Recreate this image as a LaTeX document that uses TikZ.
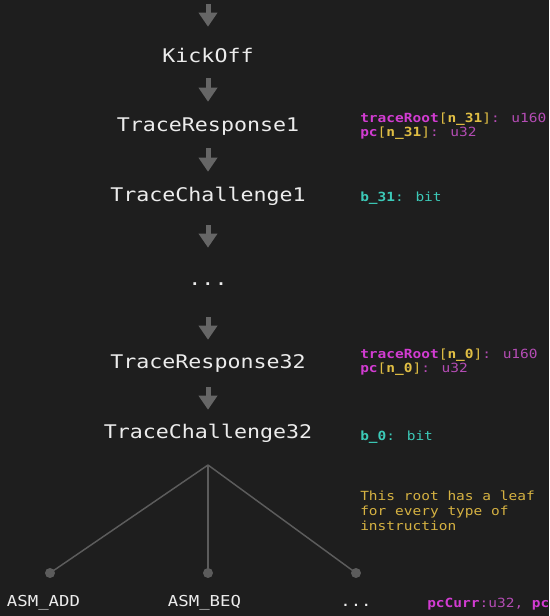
\documentclass[tikz,border=0pt]{standalone}
\usepackage{fontspec}
\usepackage{xcolor}
\usetikzlibrary{arrows.meta}
\newfontfamily\codefont[FakeStretch=1.15]{DejaVu Sans Mono}
\definecolor{bgdark}{HTML}{1E1E1E}
\definecolor{arrowgray}{HTML}{666666}
\definecolor{treegray}{HTML}{5C5C5C}
\definecolor{labelwhite}{HTML}{ECECEC}
\definecolor{magbold}{HTML}{D23CD2}
\definecolor{magreg}{HTML}{B44CB4}
\definecolor{codeyel}{HTML}{E0BE44}
\definecolor{codecyan}{HTML}{3CCAB8}
\definecolor{noteyel}{HTML}{D6B242}
\newcommand{\fld}[3]{\textcolor{magbold}{\bfseries #1}\textcolor{codeyel}{[\textbf{#2}]}\textcolor{magreg}{: #3}}
\newcommand{\bitfld}[1]{\textcolor{codecyan}{\textbf{#1}: bit}}

\begin{document}
\begin{tikzpicture}[x=0.75pt, y=-0.75pt,
    state/.style={font=\codefont\fontsize{14.1pt}{17pt}\selectfont, text=labelwhite,
        inner sep=0pt, text height=10pt, text depth=3pt, anchor=base},
    info/.style={font=\codefont\fontsize{9.45pt}{11.25pt}\selectfont, inner sep=0pt, anchor=base west},
    leaf/.style={font=\codefont\fontsize{11.3pt}{13pt}\selectfont, text=labelwhite, inner sep=0pt, anchor=base},
    flow/.style={draw=arrowgray, line width=3.75pt, -{Triangle[length=10.5pt, width=13.5pt]}},
    branch/.style={draw=treegray, line width=1.1pt},
    dot/.style={circle, fill=treegray, inner sep=0pt, minimum size=7.5pt}]
    \fill[bgdark] (0,0) rectangle (549,616);
    \useasboundingbox (0,0) rectangle (549,616);

    % chain of states
    \coordinate (entry) at (208,4);
    \node[state] (kick) at (208,63) {KickOff};
    \node[state] (tr1) at (208,132) {TraceResponse1};
    \node[state] (tc1) at (208,202) {TraceChallenge1};
    \node[state] (skip) at (208,285) {...};
    \node[state] (tr32) at (208,368) {TraceResponse32};
    \node[state] (tc32) at (208,438) {TraceChallenge32};

    \draw[flow, shorten >=17pt] (entry) -- (kick);
    \draw[flow, shorten <=8.25pt, shorten >=12.5pt] (kick) -- (tr1);
    \draw[flow, shorten <=9pt, shorten >=12.5pt] (tr1) -- (tc1);
    \draw[flow, shorten <=14.25pt, shorten >=17.8pt] (tc1) -- (skip);
    \draw[flow, shorten <=21pt, shorten >=11pt] (skip) -- (tr32);
    \draw[flow, shorten <=11.25pt, shorten >=11pt] (tr32) -- (tc32);

    % fields sent with each step
    \node[info] (root31) at (360,122.7) {\fld{traceRoot}{n\_31}{u160}};
    \node[info] (pc31) at (360,136.5) {\fld{pc}{n\_31}{u32}};
    \node[info] (bit31) at (360,201.7) {\bitfld{b\_31}};
    \node[info] (root0) at (360,358) {\fld{traceRoot}{n\_0}{u160}};
    \node[info] (pc0) at (360,372) {\fld{pc}{n\_0}{u32}};
    \node[info] (bit0) at (360,440) {\bitfld{b\_0}};

    % one leaf per instruction
    \coordinate (fork) at (208,465);
    \node[dot] (dotadd) at (50,573) {};
    \node[dot] (dotbeq) at (208,573) {};
    \node[dot] (dotmore) at (356,573) {};
    \draw[branch] (fork) -- (dotadd.center);
    \draw[branch] (fork) -- (dotbeq.center);
    \draw[branch] (fork) -- (dotmore.center);

    \node[leaf] (add) at (43.5,606) {ASM\_ADD};
    \node[leaf] (beq) at (204.5,606) {ASM\_BEQ};
    \node[leaf] (more) at (356,606) {...};
    \node[info] (pccurr) at (427,607) {\textcolor{magbold}{\textbf{pcCurr}}\textcolor{magreg}{:u32, }\textcolor{magbold}{\textbf{pc}}};

    \node[info, anchor=north west, align=left, text=noteyel] (note) at (360,490.5)
        {This root has a leaf\\for every type of\\instruction};
\end{tikzpicture}
\end{document}
